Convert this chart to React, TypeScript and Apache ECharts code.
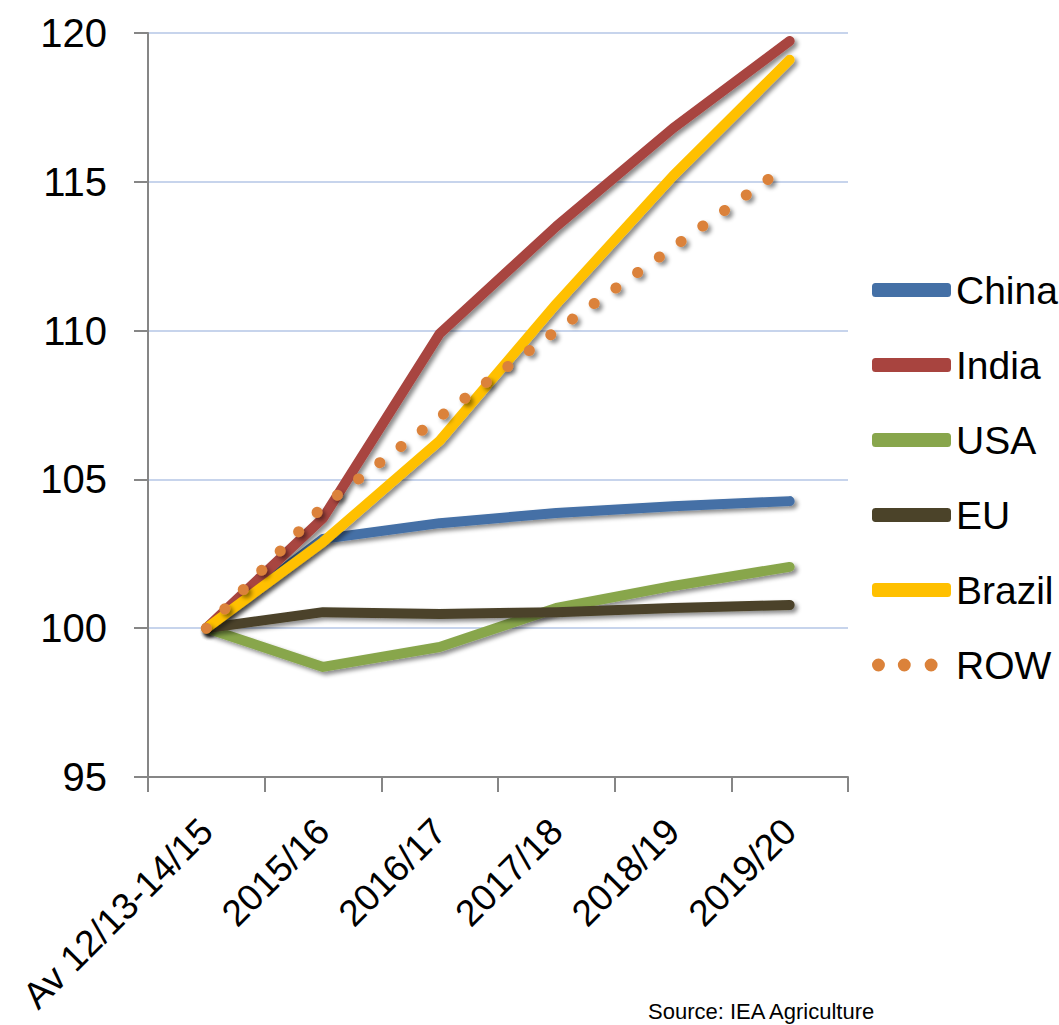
import React, { useEffect, useRef } from "react";
import * as echarts from "echarts";

const categories = ["Av 12/13-14/15", "2015/16", "2016/17", "2017/18", "2018/19", "2019/20"];
const china = [100, 103.0, 103.53, 103.87, 104.1, 104.27];
const india = [100, 103.7, 109.9, 113.5, 116.8, 119.73];
const usa = [100, 98.7, 99.37, 100.68, 101.42, 102.06];
const eu = [100, 100.54, 100.48, 100.54, 100.68, 100.78];
const brazil = [100, 102.9, 106.3, 110.9, 115.2, 119.1];
const row = [100, 104.1, 107.1, 110.0, 112.8, 115.6];

const seriesNames = ["China", "India", "USA", "EU", "Brazil", "ROW"];
const seriesData = [china, india, usa, eu, brazil, row];
const colors = ["#4470A6", "#A8443F", "#88A64C", "#4B4329", "#FFC000", "#DB823A"];

const FONT = "'Liberation Sans', Arial, sans-serif";

const dotsIcon =
  "path://M0.5 7a6.5 6.5 0 1 0 13 0a6.5 6.5 0 1 0 -13 0ZM26.5 7a6.5 6.5 0 1 0 13 0a6.5 6.5 0 1 0 -13 0ZM53.5 7a6.5 6.5 0 1 0 13 0a6.5 6.5 0 1 0 -13 0ZM79.9 7L80 7L79.95 7.05Z";

export default function App() {
  const ref = useRef<HTMLDivElement>(null);
  useEffect(() => {
    const chart = echarts.init(ref.current!, undefined, { renderer: "svg" });
    const shadow = {
      shadowColor: "rgba(0,0,0,0.45)",
      shadowBlur: 4,
      shadowOffsetX: 3,
      shadowOffsetY: 3,
    };
    chart.setOption({
      animation: false,
      backgroundColor: "#ffffff",
      grid: {
        left: 148,
        right: 211,
        top: 33,
        bottom: 248,
        containLabel: false,
        outerBoundsMode: "none",
      },
      legend: {
        orient: "vertical",
        left: 867,
        top: 260,
        itemWidth: 79,
        itemHeight: 14,
        itemGap: 25,
        textStyle: { fontFamily: FONT, fontSize: 39, lineHeight: 50, color: "#000" },
        data: seriesNames.map((n, i) => ({
          name: n,
          icon: i === 5 ? dotsIcon : "roundRect",
          itemStyle: { color: colors[i], borderWidth: 0 },
        })),
      },
      xAxis: {
        type: "category",
        data: categories,
        boundaryGap: true,
        axisLine: { lineStyle: { color: "#868686", width: 2 } },
        axisTick: { show: true, length: 15, lineStyle: { color: "#868686", width: 2 } },
        axisLabel: {
          rotate: 45,
          interval: 0,
          margin: 48,
          fontFamily: FONT,
          fontSize: 37,
          color: "#000",
        },
        splitLine: { show: false },
      },
      yAxis: {
        type: "value",
        min: 95,
        max: 120,
        interval: 5,
        axisLine: { show: true, lineStyle: { color: "#868686", width: 2 } },
        axisTick: { show: true, length: 14, lineStyle: { color: "#868686", width: 2 } },
        axisLabel: { margin: 41, fontFamily: FONT, fontSize: 40, color: "#000" },
        splitLine: { show: true, lineStyle: { color: "#B4C6E6", width: 1.5 } },
      },
      series: seriesNames.map((n, i) => ({
        name: n,
        type: "line",
        data: seriesData[i],
        showSymbol: false,
        symbol: "none",
        color: colors[i],
        lineStyle:
          i === 5
            ? { color: colors[i], width: 11, type: [0.1, 26.6], cap: "round", ...shadow }
            : { color: colors[i], width: 10, cap: "round", join: "round", ...shadow },
        z: 2 + i,
      })),
      graphic: [
        {
          type: "text",
          left: 648,
          top: 1000,
          style: { text: "Source: IEA Agriculture", fontFamily: FONT, fontSize: 22, fill: "#000" },
        },
      ],
    });
    return () => chart.dispose();
  }, []);
  return (
    <div
      ref={ref}
      style={{ position: "fixed", left: 0, top: 0, width: 1059, height: 1025 }}
    />
  );
}
